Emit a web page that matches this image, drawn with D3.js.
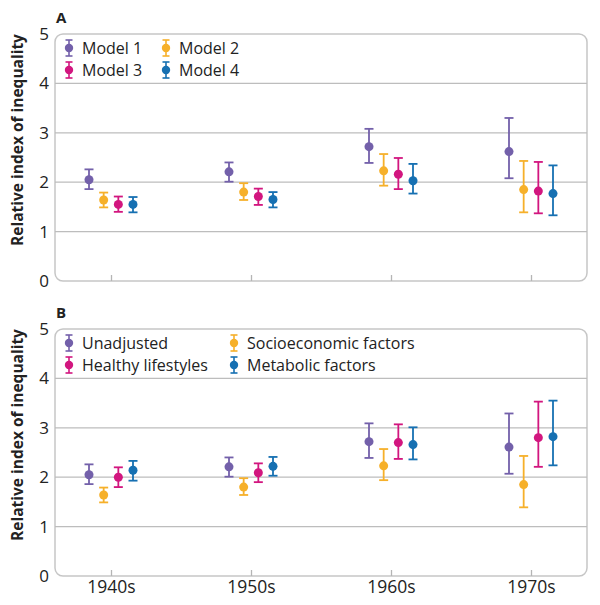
<!DOCTYPE html>
<html lang="en">
<head>
<script type="text/javascript" src="https://cdnjs.cloudflare.com/ajax/libs/d3/7.8.5/d3.min.js"></script>
<style>
    body { margin: 0; background: #fff; }
    text { font-family: "Open Sans", "Noto Sans", sans-serif; fill: #222; }
</style>
</head>
<body>
<div id="container"></div>
<script type="text/javascript">
    var w = 600;
    var h = 605;

    var decades = ["1940s", "1950s", "1960s", "1970s"];
    var colors = ["#7360aa", "#f6b02a", "#d2167f", "#1670b2"];
    var yTicks = [0, 1, 2, 3, 4, 5];

    // panel A
    var seriesA = ["Model 1", "Model 2", "Model 3", "Model 4"];
    var estA = [[2.05, 2.21, 2.72, 2.62], [1.64, 1.80, 2.23, 1.85], [1.55, 1.71, 2.16, 1.82], [1.55, 1.65, 2.03, 1.77]];
    var lowA = [[1.86, 2.01, 2.39, 2.08], [1.49, 1.64, 1.93, 1.39], [1.40, 1.54, 1.86, 1.37], [1.39, 1.49, 1.77, 1.33]];
    var highA = [[2.26, 2.40, 3.08, 3.30], [1.79, 1.98, 2.57, 2.43], [1.71, 1.87, 2.49, 2.41], [1.70, 1.80, 2.37, 2.34]];

    // panel B
    var seriesB = ["Unadjusted", "Socioeconomic factors", "Healthy lifestyles", "Metabolic factors"];
    var estB = [[2.05, 2.21, 2.72, 2.61], [1.64, 1.80, 2.23, 1.85], [2.00, 2.09, 2.70, 2.80], [2.14, 2.22, 2.66, 2.82]];
    var lowB = [[1.86, 2.01, 2.39, 2.07], [1.49, 1.64, 1.94, 1.39], [1.80, 1.90, 2.37, 2.21], [1.93, 2.03, 2.36, 2.24]];
    var highB = [[2.26, 2.40, 3.09, 3.29], [1.79, 1.98, 2.57, 2.43], [2.20, 2.28, 3.07, 3.53], [2.33, 2.41, 3.01, 3.55]];

    var svg = d3.select("#container")
                .append("svg")
                .attr("width", w)
                .attr("height", h);

    var left = 55, right = 587;

    var xscale = d3.scalePoint()
                    .domain(decades)
                    .range([left, right])
                    .padding(0.4);

    function drawPanel(letter, top, bottom, series, est, low, high, legendCol2, showLabels) {
        var g = svg.append("g");
        var yscale = d3.scaleLinear().domain([0, 5]).range([bottom, top]);
        var offset = d3.scalePoint().domain(series).range([-22, 22]);

        // frame
        g.append("rect")
            .attr("x", left).attr("y", top)
            .attr("width", right - left).attr("height", bottom - top)
            .attr("rx", 8).attr("ry", 8)
            .attr("fill", "none")
            .attr("stroke", "#c6c6c6")
            .attr("stroke-width", 1.5);

        // gridlines
        g.selectAll(".grid")
            .data(yTicks.filter(function(d) { return d > 0 && d < 5; }))
            .enter()
            .append("line")
            .attr("x1", left).attr("x2", right)
            .attr("y1", function(d) { return yscale(d); })
            .attr("y2", function(d) { return yscale(d); })
            .attr("stroke", "#bdbdbd")
            .attr("stroke-width", 1.3);

        // y axis labels
        var yAxis = g.append("g")
            .attr("transform", "translate(" + left + ",0)")
            .call(d3.axisLeft(yscale).tickValues(yTicks).tickFormat(d3.format("d")).tickSize(0).tickPadding(6));
        yAxis.select(".domain").remove();
        yAxis.selectAll("text")
            .attr("font-size", 17)
            .attr("font-family", "Open Sans")
            .attr("fill", "#222");

        // x axis
        var xAxis = g.append("g")
            .attr("transform", "translate(0," + bottom + ")")
            .call(d3.axisBottom(xscale).tickSize(-6).tickPadding(5));
        xAxis.select(".domain").remove();
        xAxis.selectAll("line").attr("stroke", "#b5b5b5").attr("stroke-width", 1.3);
        xAxis.selectAll("text")
            .attr("font-size", 17.5)
            .attr("font-family", "Open Sans")
            .attr("fill", "#222")
            .style("display", showLabels ? null : "none");

        // y title
        g.append("text")
            .attr("transform", "translate(23," + (top + 106) + ") rotate(-90)")
            .attr("text-anchor", "middle")
            .attr("font-size", 15.5)
            .attr("font-weight", "bold")
            .text("Relative index of inequality");

        // panel letter
        g.append("text")
            .attr("x", 56).attr("y", top - 11)
            .attr("font-size", 15)
            .attr("font-weight", "bold")
            .text(letter);

        // error bars
        series.forEach(function(s, i) {
            var pts = decades.map(function(d, j) {
                return { x: xscale(d) + offset(s), est: est[i][j], lo: low[i][j], hi: high[i][j] };
            });
            var sg = g.append("g");
            sg.selectAll(".bar").data(pts).enter().append("line")
                .attr("x1", function(d) { return d.x; })
                .attr("x2", function(d) { return d.x; })
                .attr("y1", function(d) { return yscale(d.lo); })
                .attr("y2", function(d) { return yscale(d.hi); })
                .attr("stroke", colors[i]).attr("stroke-width", 1.8);
            ["lo", "hi"].forEach(function(k) {
                sg.selectAll(".cap" + k).data(pts).enter().append("line")
                    .attr("x1", function(d) { return d.x - 4.5; })
                    .attr("x2", function(d) { return d.x + 4.5; })
                    .attr("y1", function(d) { return yscale(d[k]); })
                    .attr("y2", function(d) { return yscale(d[k]); })
                    .attr("stroke", colors[i]).attr("stroke-width", 1.8);
            });
            sg.selectAll("circle").data(pts).enter().append("circle")
                .attr("cx", function(d) { return d.x; })
                .attr("cy", function(d) { return yscale(d.est); })
                .attr("r", 4.5)
                .attr("fill", colors[i]);

            // legend
            var col = i % 2, row = Math.floor(i / 2);
            var lx = col === 0 ? 69 : legendCol2;
            var ly = top + 14 + row * 22;
            var lg = g.append("g").attr("transform", "translate(" + lx + "," + ly + ")");
            lg.append("line").attr("x1", 0).attr("x2", 0).attr("y1", -8).attr("y2", 8)
                .attr("stroke", colors[i]).attr("stroke-width", 1.6);
            lg.append("line").attr("x1", -3.5).attr("x2", 3.5).attr("y1", -8).attr("y2", -8)
                .attr("stroke", colors[i]).attr("stroke-width", 1.6);
            lg.append("line").attr("x1", -3.5).attr("x2", 3.5).attr("y1", 8).attr("y2", 8)
                .attr("stroke", colors[i]).attr("stroke-width", 1.6);
            lg.append("circle").attr("cx", 0).attr("cy", 0).attr("r", 4.2).attr("fill", colors[i]);
            lg.append("text")
                .attr("x", 13).attr("y", 6)
                .attr("font-size", 16)
                .text(s);
        });
    }

    drawPanel("A", 34, 281, seriesA, estA, lowA, highA, 166, false);
    drawPanel("B", 329, 576, seriesB, estB, lowB, highB, 234, true);
</script>
</body>
</html>
